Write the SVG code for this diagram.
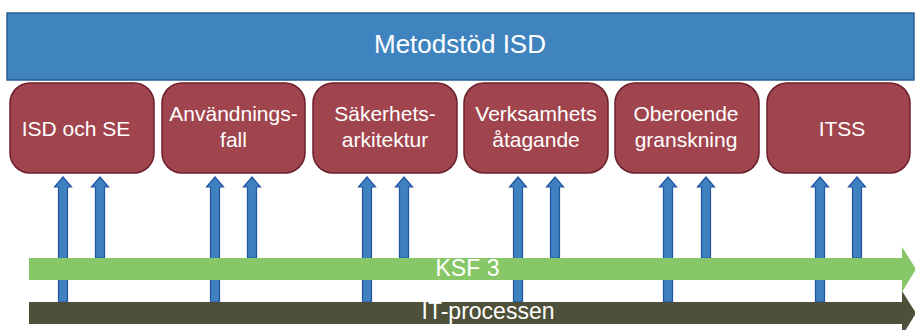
<svg xmlns="http://www.w3.org/2000/svg" width="915" height="330" viewBox="0 0 915 330">
<defs>
<style>
.box{fill:#A0454D;stroke:#6B1F2C;stroke-width:1.5}
.bt{font-family:"Liberation Sans",Arial,sans-serif;font-size:21px;fill:#FFFFFF;text-anchor:middle}
.up{fill:#3F80BE;stroke:#1F55A0;stroke-width:1.2}
.bar{font-family:"Liberation Sans",Arial,sans-serif;font-size:23px;fill:#FFFFFF;text-anchor:middle}
</style>
<path id="arrL" d="M-4.5,302 V187 H-8.5 L0,177 L8.5,187 H4.5 V302 Z"/>
<path id="arrR" d="M-4.5,258 V187 H-8.5 L0,177 L8.5,187 H4.5 V258 Z"/>
</defs>
<rect width="915" height="330" fill="#FFFFFF"/>
<g id="metodstod">
<rect x="7" y="13" width="907" height="67" fill="#3F84BF" stroke="#2A5E92" stroke-width="1.5"/>
<text x="460" y="53" font-family="Liberation Sans, Arial, sans-serif" font-size="26" fill="#FFFFFF" text-anchor="middle">Metodstöd ISD</text>
</g>
<g id="connectors">
<use href="#arrL" class="up" transform="translate(63,0)"/>
<use href="#arrR" class="up" transform="translate(100,0)"/>
<use href="#arrL" class="up" transform="translate(215,0)"/>
<use href="#arrR" class="up" transform="translate(252,0)"/>
<use href="#arrL" class="up" transform="translate(367,0)"/>
<use href="#arrR" class="up" transform="translate(404,0)"/>
<use href="#arrL" class="up" transform="translate(518,0)"/>
<use href="#arrR" class="up" transform="translate(555,0)"/>
<use href="#arrL" class="up" transform="translate(668,0)"/>
<use href="#arrR" class="up" transform="translate(706,0)"/>
<use href="#arrL" class="up" transform="translate(820,0)"/>
<use href="#arrR" class="up" transform="translate(857,0)"/>
</g>
<g id="isd-och-se">
<rect class="box" x="10" y="83" width="144" height="90" rx="20"/>
<text class="bt" x="76" y="136">ISD och SE</text>
</g>
<g id="anvandningsfall">
<rect class="box" x="162" y="83" width="143" height="90" rx="20"/>
<text class="bt" x="233.5" y="121">Användnings-</text>
<text class="bt" x="233.5" y="147">fall</text>
</g>
<g id="sakerhetsarkitektur">
<rect class="box" x="313" y="83" width="144" height="90" rx="20"/>
<text class="bt" x="385" y="121">Säkerhets-</text>
<text class="bt" x="385" y="147">arkitektur</text>
</g>
<g id="verksamhetsatagande">
<rect class="box" x="464" y="83" width="144" height="90" rx="20"/>
<text class="bt" x="536" y="121">Verksamhets</text>
<text class="bt" x="536" y="147">åtagande</text>
</g>
<g id="oberoende-granskning">
<rect class="box" x="615" y="83" width="144" height="90" rx="20"/>
<text class="bt" x="686" y="121">Oberoende</text>
<text class="bt" x="686" y="147">granskning</text>
</g>
<g id="itss">
<rect class="box" x="767" y="83" width="143" height="90" rx="20"/>
<text class="bt" x="842" y="136">ITSS</text>
</g>
<g id="ksf3">
<path d="M29,258 H902 V247 L916,269 L902,292 V280 H29 Z" fill="#88C767"/>
<text class="bar" x="467.5" y="276">KSF 3</text>
</g>
<g id="it-processen">
<path d="M29,302 H902 V291 L916,313 L902,336 V324 H29 Z" fill="#4F5039"/>
<text class="bar" x="488" y="319">IT-processen</text>
</g>
</svg>
